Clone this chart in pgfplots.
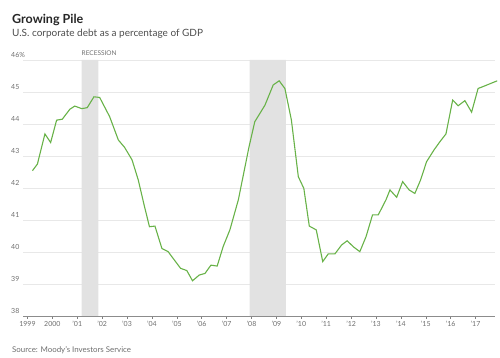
\documentclass[border=0pt]{standalone}
\usepackage{pgfplots}
\pgfplotsset{compat=1.18}
\usepackage{fontspec}
\setmainfont{Lato}
\definecolor{linegreen}{RGB}{104,178,72}
\definecolor{recgray}{RGB}{226,226,226}
\definecolor{gridgray}{RGB}{232,232,232}
\definecolor{txtgray}{RGB}{110,110,110}
\begin{document}
\begin{tikzpicture}
\path[use as bounding box] (0pt,0pt) rectangle (500pt,358pt);
\node[anchor=base west, inner sep=0, font=\bfseries\fontsize{12.5}{13}\selectfont, text=black!85] at (12pt,334pt) {Growing Pile};
\node[anchor=base west, inner sep=0, font=\fontsize{10}{11}\selectfont, text=black!70] at (12pt,321pt) {U.S. corporate debt as a percentage of GDP};
\node[anchor=base west, inner sep=0, font=\fontsize{7.9}{8}\selectfont, text=txtgray] at (12pt,5pt) {Source: Moody's Investors Service};
\begin{axis}[
  at={(23pt,42pt)}, anchor=south west,
  scale only axis, width=472pt, height=256pt,
  xmin=1998.82, xmax=2017.78, ymin=38, ymax=46,
  clip=false,
  separate axis lines,
  axis x line*=bottom, axis y line*=left,
  y axis line style={draw=none},
  x axis line style={draw=black!45, line width=0.6pt},
  ymajorgrids, grid style={gridgray, line width=0.6pt},
  ytick={38,39,40,41,42,43,44,45,46},
  yticklabels={38,39,40,41,42,43,44,45,46\%},
  ytick style={draw=none},
  yticklabel style={anchor=south west, inner sep=0pt, xshift=-12pt, yshift=2pt, font=\fontsize{7}{7}\selectfont, text=txtgray},
  xtick={1999,...,2017},
  xticklabels={1999,2000,’01,’02,’03,’04,’05,’06,’07,’08,’09,’10,’11,’12,’13,’14,’15,’16,’17},
  xtick align=outside, major tick length=3pt,
  xtick style={draw=black!50, line width=0.5pt},
  xticklabel style={font=\fontsize{7}{7}\selectfont, text=txtgray, yshift=1pt},
]
\addplot[fill=recgray, draw=none] coordinates {(2001.17,38) (2001.17,46) (2001.85,46) (2001.85,38)} \closedcycle;
\addplot[fill=recgray, draw=none] coordinates {(2007.92,38) (2007.92,46) (2009.38,46) (2009.38,38)} \closedcycle;
\node[anchor=base west, inner sep=0, font=\fontsize{6.5}{7}\selectfont, text=txtgray] at (axis cs:2001.17,46) [yshift=4pt] {RECESSION};
\addplot[linegreen, line width=1.1pt, mark=none] coordinates {
(1999.20,42.54) (1999.40,42.75) (1999.70,43.69) (1999.93,43.42)
(2000.17,44.12) (2000.40,44.15) (2000.70,44.46) (2000.90,44.56)
(2001.18,44.48) (2001.40,44.51) (2001.67,44.85) (2001.90,44.83)
(2002.30,44.23) (2002.65,43.50) (2002.90,43.27) (2003.20,42.88)
(2003.45,42.25) (2003.70,41.42) (2003.90,40.79) (2004.12,40.81)
(2004.40,40.11) (2004.65,40.01) (2004.90,39.75) (2005.15,39.49)
(2005.40,39.42) (2005.63,39.10) (2005.90,39.28) (2006.13,39.33)
(2006.37,39.59) (2006.62,39.56) (2006.86,40.17) (2007.13,40.69)
(2007.47,41.63) (2007.90,43.29) (2008.13,44.07) (2008.54,44.59)
(2008.87,45.22) (2009.11,45.35) (2009.34,45.11) (2009.60,44.13)
(2009.88,42.35) (2010.10,41.99) (2010.32,40.81) (2010.60,40.69)
(2010.86,39.70) (2011.08,39.94) (2011.35,39.94) (2011.62,40.22)
(2011.84,40.35) (2012.11,40.15) (2012.35,40.01) (2012.60,40.48)
(2012.86,41.16) (2013.09,41.16) (2013.40,41.63) (2013.56,41.94)
(2013.83,41.71) (2014.07,42.20) (2014.33,41.94) (2014.56,41.83)
(2014.79,42.25) (2015.03,42.82) (2015.33,43.19) (2015.57,43.45)
(2015.81,43.69) (2016.08,44.75) (2016.30,44.57) (2016.57,44.73)
(2016.84,44.37) (2017.10,45.11) (2017.30,45.17) (2017.87,45.35)
};
\end{axis}
\end{tikzpicture}
\end{document}
